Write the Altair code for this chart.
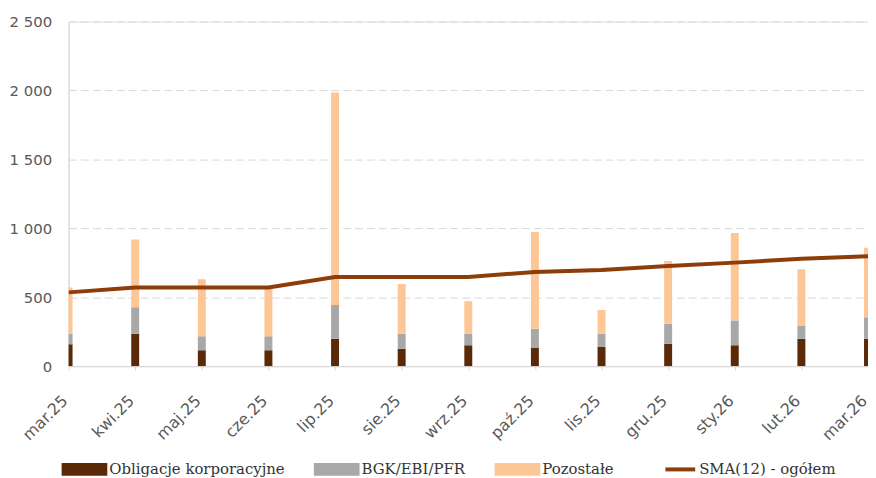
import altair as alt
import pandas as pd

months = ["mar.25", "kwi.25", "maj.25", "cze.25", "lip.25", "sie.25", "wrz.25",
          "paź.25", "lis.25", "gru.25", "sty.26", "lut.26", "mar.26"]
corp = [158, 235, 115, 115, 199, 127, 151, 132, 139, 163, 151, 199, 199]
bgk = [77, 192, 101, 101, 245, 108, 84, 139, 96, 144, 180, 96, 156]
other = [336, 491, 414, 355, 1541, 360, 235, 702, 173, 455, 635, 407, 503]
sma = [535, 571, 571, 571, 647, 647, 647, 683, 697, 726, 751, 779, 798]

series_names = ["Obligacje korporacyjne", "BGK/EBI/PFR", "Pozostałe"]
series_colors = ["#5a2a08", "#a8a8a8", "#fcc794"]
line_name = "SMA(12) - ogółem"
line_color = "#8e3c0a"

rows = []
for i, m in enumerate(months):
    for k, (name, vals) in enumerate(zip(series_names, [corp, bgk, other])):
        rows.append({"month": m, "series": name, "value": vals[i], "order": k})
bars_df = pd.DataFrame(rows)
line_df = pd.DataFrame({"month": months, "sma": sma, "name": [line_name] * len(months)})

xscale = alt.Scale(type="point", padding=0)
xaxis = alt.Axis(title=None, labelAngle=-45, labelFont="DejaVu Sans", labelFontSize=16,
                 labelColor="#595959", ticks=True, tickSize=4, tickColor="#d9d9d9",
                 domainColor="#d9d9d9", labelPadding=28, labelOffset=-4, labelAlign="right",
                 labelBaseline="middle", labelBound=False, grid=False)
yscale = alt.Scale(domain=[0, 2500])
yaxis = alt.Axis(title=None, values=[0, 500, 1000, 1500, 2000, 2500],
                 labelExpr="replace(format(datum.value, ','), ',', ' ')",
                 labelFont="DejaVu Sans", labelFontSize=15, labelColor="#595959",
                 ticks=False, labelPadding=17, domainColor="#d9d9d9",
                 grid=True, gridColor="#d9d9d9", gridDash=[8, 4])

bars = alt.Chart(bars_df).mark_bar(size=8, clip=True).encode(
    x=alt.X("month:N", sort=months, scale=xscale, axis=xaxis),
    y=alt.Y("sum(value):Q", scale=yscale, axis=yaxis, stack="zero"),
    fill=alt.Fill("series:N",
                  scale=alt.Scale(domain=series_names, range=series_colors),
                  legend=alt.Legend(title=None, orient="none", direction="horizontal",
                                    legendX=-7, legendY=428,
                                    symbolType="M-1,-0.28H1V0.28H-1Z", symbolSize=2116,
                                    symbolStrokeWidth=0, labelFont="DejaVu Serif",
                                    labelFontSize=15, labelColor="#333333",
                                    labelOffset=2, columnPadding=29, labelLimit=300)),
    order=alt.Order("order:Q"),
)

line = alt.Chart(line_df).mark_line(strokeWidth=4, clip=True).encode(
    x=alt.X("month:N", sort=months, scale=xscale),
    y=alt.Y("sma:Q", scale=yscale),
    stroke=alt.Stroke("name:N",
                      scale=alt.Scale(domain=[line_name], range=[line_color]),
                      legend=alt.Legend(title=None, orient="none", legendX=599, legendY=434,
                                        symbolType="stroke", symbolSize=900,
                                        symbolStrokeWidth=4, labelFont="DejaVu Serif",
                                        labelFontSize=15, labelColor="#333333",
                                        labelOffset=2, labelLimit=300)),
)

chart = alt.layer(bars, line).resolve_scale(fill="independent", stroke="independent").properties(
    width=805, height=347,
    autosize=alt.AutoSizeParams(type="none"),
    padding={"left": 61, "top": 12, "right": 0, "bottom": 110},
).configure_view(stroke=None).configure(background="white")

chart.save("out.html", embed_options={"renderer": "svg", "actions": False})
